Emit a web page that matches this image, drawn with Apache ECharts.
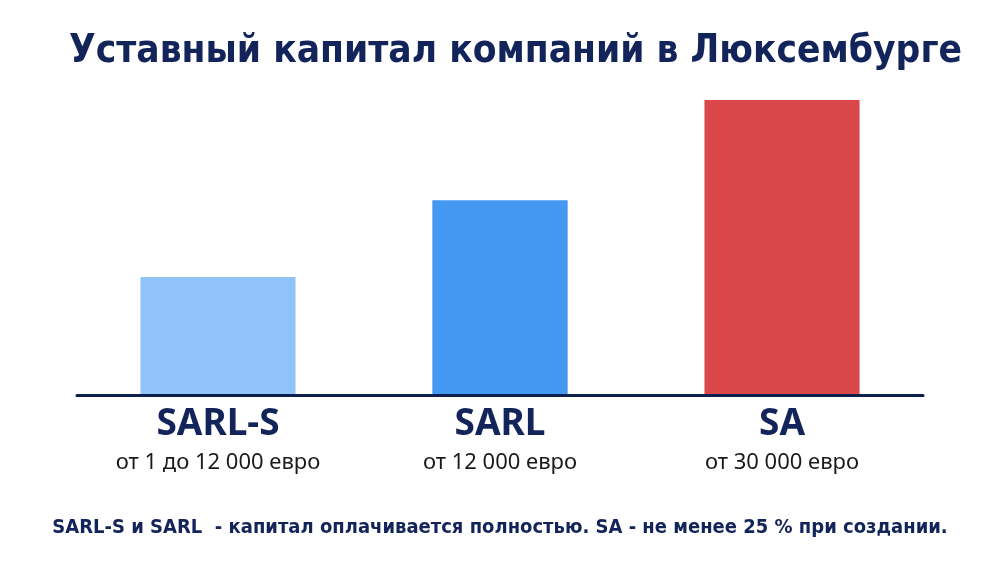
<!DOCTYPE html>
<html>
<head>
<meta charset="utf-8">
<script src="https://cdn.jsdelivr.net/npm/echarts@6/dist/echarts.min.js"></script>
<style>
  html, body { margin: 0; padding: 0; background: #fff; }
  #chart { width: 1000px; height: 563px; }
</style>
</head>
<body>
<div id="chart"></div>
<script>
// данные
const companyTypes = ['SARL-S', 'SARL', 'SA'];
const capitalNotes = ['от 1 до 12 000 евро', 'от 12 000 евро', 'от 30 000 евро'];
// относительная высота столбцов (иллюстративная шкала 0-100)
const relativeHeight = [40, 66, 100];

const titleText = 'Уставный капитал компаний в Люксембурге';
const footerText = 'SARL-S и SARL  - капитал оплачивается полностью. SA - не менее 25 % при создании.';

// стили
const barColors = ['#90c4f8', '#4498f1', '#d9474a'];
const barWidthRatio = [0.55, 0.48, 0.55];
const navy = '#12245a';
const narrowFont = "'DejaVu Sans Condensed', 'Liberation Sans Narrow', Roboto, sans-serif";

const chart = echarts.init(document.getElementById('chart'));

const option = {
    backgroundColor: '#ffffff',
    title: [
        {
            text: titleText,
            left: 64,
            top: 27,
            textStyle: {
                fontFamily: narrowFont,
                fontWeight: 'bold',
                fontSize: 38.5,
                color: navy
            }
        },
        {
            text: footerText,
            left: 'center',
            top: 513,
            textStyle: {
                fontFamily: narrowFont,
                fontWeight: 'bold',
                fontSize: 20,
                color: navy
            }
        }
    ],
    grid: {
        left: 77,
        right: 77,
        top: 100,
        bottom: 168
    },
    xAxis: {
        type: 'category',
        data: companyTypes,
        z: 5,
        axisLine: { lineStyle: { color: '#0d1f4d', width: 3 } },
        axisTick: { show: false },
        axisLabel: {
            margin: 7,
            interval: 0,
            formatter: function (value, idx) {
                return '{a|' + value + '}\n{b|' + capitalNotes[idx] + '}';
            },
            rich: {
                a: {
                    fontFamily: 'Noto Sans',
                    fontWeight: 'bold',
                    fontSize: 37,
                    lineHeight: 44,
                    color: navy
                },
                b: {
                    fontFamily: 'Noto Sans',
                    fontSize: 22,
                    lineHeight: 34,
                    color: '#1a1a1a'
                }
            }
        }
    },
    yAxis: {
        type: 'value',
        min: 0,
        max: 100,
        show: false,
        splitLine: { show: false }
    },
    series: [
        {
            type: 'custom',
            data: relativeHeight.map((v, i) => [i, v]),
            encode: { x: 0, y: 1 },
            renderItem: function (params, api) {
                const idx = api.value(0);
                const top = api.coord([idx, api.value(1)]);
                const base = api.coord([idx, 0]);
                const band = api.size([1, 0])[0];
                const w = band * barWidthRatio[idx];
                return {
                    type: 'rect',
                    shape: { x: top[0] - w / 2, y: top[1], width: w, height: base[1] - top[1] },
                    style: { fill: barColors[idx] }
                };
            }
        }
    ]
};

chart.setOption(option);
</script>
</body>
</html>
